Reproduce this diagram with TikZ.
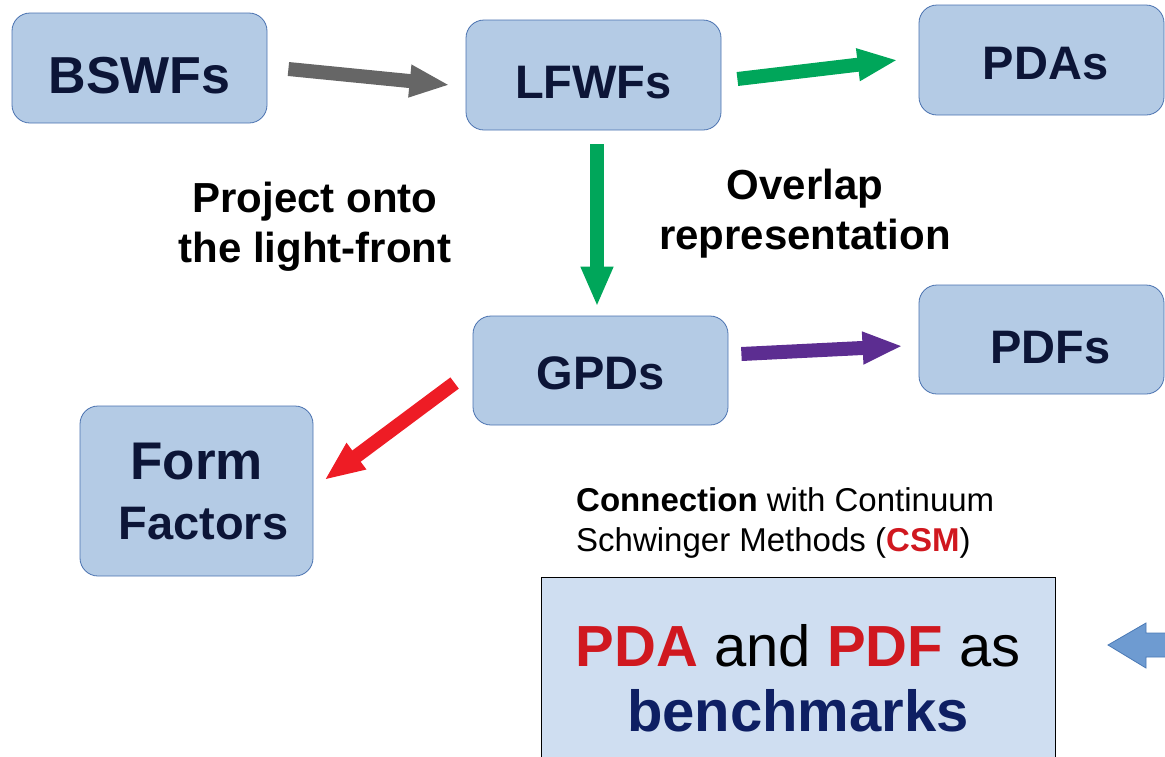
\documentclass[tikz,border=0pt]{standalone}
\usepackage{fontspec}
\setmainfont{Liberation Sans}
\usetikzlibrary{arrows.meta}

\definecolor{boxfill}{HTML}{B4CBE5}
\definecolor{boxedge}{HTML}{4A72B0}
\definecolor{navytext}{HTML}{0C1537}
\definecolor{benchfill}{HTML}{CFDEF1}
\definecolor{benchnavy}{HTML}{0E1F63}
\definecolor{hired}{HTML}{D0181F}
\definecolor{arrowgray}{HTML}{666666}
\definecolor{arrowgreen}{HTML}{00A65A}
\definecolor{arrowpurple}{HTML}{5C2D91}
\definecolor{arrowred}{HTML}{EE1C25}
\definecolor{arrowblue}{HTML}{6E9BD1}
\definecolor{arrowblueedge}{HTML}{4A79B5}

\tikzset{
  wfbox/.style={draw=boxedge, fill=boxfill, line width=0.8pt, rounded corners=18pt,
    text=navytext, align=center, inner sep=0pt,
    font=\bfseries\fontsize{47}{60}\selectfont},
  fat/.style={line width=14pt, -{Triangle[length=40pt,width=30pt]}},
  bigtext/.style={align=center, font=\bfseries\fontsize{42}{50}\selectfont},
}

\begin{document}
\begin{tikzpicture}[x=1pt, y=-1pt]

\useasboundingbox (0,0) rectangle (1165,756);

% ============================
% Boxes
% ============================
\node[wfbox, minimum width=255pt, minimum height=110pt, text height=51pt, font=\bfseries\fontsize{52}{60}\selectfont] (bswf) at (139.5,68) {BSWFs};
\node[wfbox, minimum width=255pt, minimum height=110pt, text height=48pt] (lfwf) at (593.5,75) {LFWFs};
\node[wfbox, minimum width=245pt, minimum height=110pt, text height=40pt] (pda)  at (1041.5,60) {\hspace*{8pt}PDAs};
\node[wfbox, minimum width=255pt, minimum height=109pt, text height=38pt] (gpd)  at (600.5,370.5) {GPDs};
\node[wfbox, minimum width=245pt, minimum height=109pt, text height=48pt] (pdf)  at (1041.5,339.5) {\hspace*{18pt}PDFs};
\node[wfbox, minimum width=233pt, minimum height=170pt] (ff)   at (196.5,491)
  {{\fontsize{53}{60}\selectfont Form}\\\hspace*{14pt}Factors};

% Benchmark box (runs off the bottom)
\node[draw=black, line width=0.6pt, fill=benchfill, minimum width=514pt, minimum height=203pt,
      align=center, font=\fontsize{58}{65}\selectfont] (bench) at (798,678.5)
{{\bfseries\color{hired}PDA} and {\bfseries\color{hired}PDF} as\\
 {\bfseries\color{benchnavy}benchmarks}};

% ============================
% Labels
% ============================
\node[bigtext] (proj) at (315,227) {Project onto\\the light-front};
\node[bigtext] (over) at (805,214) {Overlap\\representation};
\node[anchor=west, align=left, inner sep=0pt, font=\fontsize{33}{40}\selectfont] (csm) at (576,523)
{\textbf{Connection} with Continuum\\Schwinger Methods ({\bfseries\color{hired}CSM})};

% ============================
% Arrows
% ============================
\draw[fat, draw=arrowgray]   ([shift={(21,1)}]bswf.east)    -- ([shift={(-16,10)}]lfwf.west);
\draw[fat, draw=arrowgreen]  ([shift={(16,4)}]lfwf.east)    -- ([shift={(-21,0)}]pda.west);
\draw[fat, draw=arrowgreen]  ([shift={(3.5,14)}]lfwf.south) -- ([shift={(-3.5,-9)}]gpd.north);
\draw[fat, draw=arrowpurple] ([shift={(13,-16.5)}]gpd.east) -- ([shift={(-16,6.5)}]pdf.west);
\draw[fat, draw=arrowred]    ([shift={(-18,12.5)}]gpd.west) -- ([shift={(11,-11)}]ff.east);

% Blue arrow entering from the right
\draw[fill=arrowblue, draw=arrowblueedge, line width=0.8pt]
  (1168,633) -- (1146,633) -- (1146,623) -- (1108,645) -- (1146,668) -- (1146,657) -- (1168,657);

\end{tikzpicture}
\end{document}
